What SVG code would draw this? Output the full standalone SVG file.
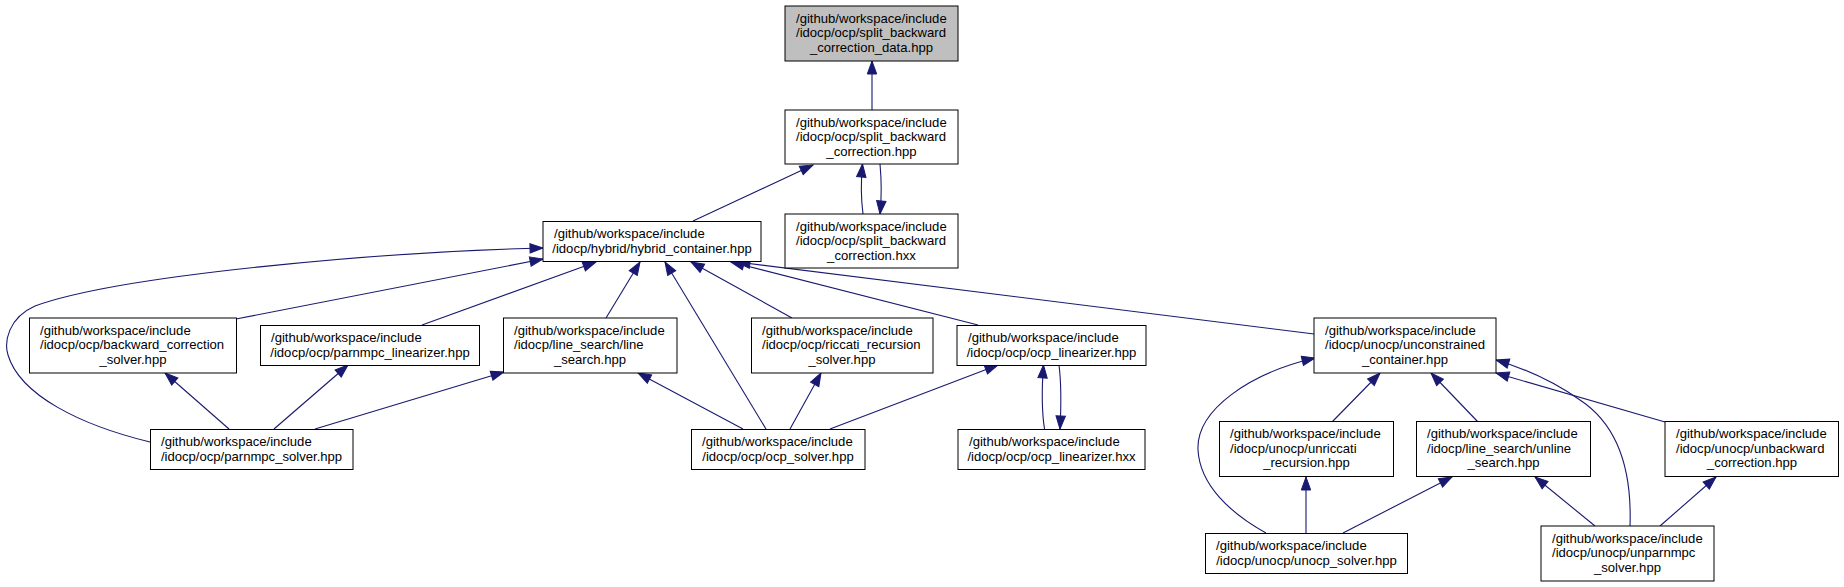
<svg xmlns="http://www.w3.org/2000/svg" width="1844" height="587" viewBox="0 0 1844 587">
<style>
.n rect{fill:#ffffff;stroke:#000000;stroke-width:1}
#n1 rect{fill:#bfbfbf}
text{font-family:"Liberation Sans",Arial,Helvetica,sans-serif;font-size:13.1px;fill:#000000}
.m{text-anchor:middle}
.e path{fill:none;stroke:#191970;stroke-width:1.1;marker-end:url(#ah)}
</style>
<defs>
<marker id="ah" markerUnits="userSpaceOnUse" markerWidth="16" markerHeight="12" refX="13" refY="5" orient="auto" overflow="visible">
<path d="M0,0.3 L13,5 L0,9.7 z" fill="#191970" stroke="#191970" stroke-width="1"/>
</marker>
</defs>
<rect width="1844" height="587" fill="#ffffff"/>
<g class="e" id="edges">
<path d="M872,110 L872,61"/>
<path d="M863,214 C861,199 861,180 862.5,164"/>
<path d="M880,164 C881.5,180 881.5,199 880,214"/>
<path d="M693,221 L813,165"/>
<path d="M150,442 C80,425 20,395 8,355 C4,342 8,318 35,306 C120,275 380,252 543,248"/>
<path d="M236,319 L543,259"/>
<path d="M422,325 L596,262"/>
<path d="M606,318 L640,262"/>
<path d="M766,429 L665,262"/>
<path d="M792,318 L691,262"/>
<path d="M978,325 L731,262"/>
<path d="M1314,334 L737,262"/>
<path d="M229,429 L165,373"/>
<path d="M274,429 L348,365"/>
<path d="M315,429 L504,372"/>
<path d="M743,429 L638,373"/>
<path d="M790,429 L821,373"/>
<path d="M830,429 L998,365"/>
<path d="M1044.5,429 C1042,413 1042,385 1043.5,365"/>
<path d="M1059,365 C1061,381 1061,410 1060,429"/>
<path d="M1266,533 C1230,513 1200,485 1198,450 C1196,410 1250,373 1315,358"/>
<path d="M1332,422 L1380,373"/>
<path d="M1478,422 L1431,373"/>
<path d="M1630,526 C1632,470 1618,425 1580,400 C1560,386 1530,370 1496,360"/>
<path d="M1665,422 L1496,373"/>
<path d="M1306,533 L1306,477"/>
<path d="M1343,533 L1452,477"/>
<path d="M1595,526 L1535,477"/>
<path d="M1660,526 L1716,477"/>
</g>
<g class="n" id="n1">
<rect x="785" y="6" width="173" height="55"/>
<text x="796" y="22.5">/github/workspace/include</text>
<text x="796" y="37">/idocp/ocp/split_backward</text>
<text class="m" x="871.5" y="51.5">_correction_data.hpp</text>
</g>
<g class="n" id="n2">
<rect x="785" y="110" width="173" height="54"/>
<text x="796" y="126.5">/github/workspace/include</text>
<text x="796" y="141">/idocp/ocp/split_backward</text>
<text class="m" x="871.5" y="155.5">_correction.hpp</text>
</g>
<g class="n" id="n3">
<rect x="785" y="214" width="173" height="54"/>
<text x="796" y="230.5">/github/workspace/include</text>
<text x="796" y="245">/idocp/ocp/split_backward</text>
<text class="m" x="871.5" y="259.5">_correction.hxx</text>
</g>
<g class="n" id="n4">
<rect x="543" y="221.5" width="218" height="40"/>
<text x="554" y="238">/github/workspace/include</text>
<text class="m" x="652" y="252.5">/idocp/hybrid/hybrid_container.hpp</text>
</g>
<g class="n" id="n5">
<rect x="29.5" y="318" width="207" height="55"/>
<text x="40" y="334.5">/github/workspace/include</text>
<text x="40" y="349">/idocp/ocp/backward_correction</text>
<text class="m" x="133" y="363.5">_solver.hpp</text>
</g>
<g class="n" id="n6">
<rect x="260.5" y="325.5" width="219" height="40"/>
<text x="271" y="342">/github/workspace/include</text>
<text class="m" x="370" y="356.5">/idocp/ocp/parnmpc_linearizer.hpp</text>
</g>
<g class="n" id="n7">
<rect x="503.5" y="318" width="173.5" height="55"/>
<text x="514" y="334.5">/github/workspace/include</text>
<text x="514" y="349">/idocp/line_search/line</text>
<text class="m" x="590" y="363.5">_search.hpp</text>
</g>
<g class="n" id="n8">
<rect x="751.5" y="318" width="181.5" height="55"/>
<text x="762" y="334.5">/github/workspace/include</text>
<text x="762" y="349">/idocp/ocp/riccati_recursion</text>
<text class="m" x="842" y="363.5">_solver.hpp</text>
</g>
<g class="n" id="n9">
<rect x="957" y="325.5" width="189" height="40"/>
<text x="968" y="342">/github/workspace/include</text>
<text class="m" x="1051.5" y="356.5">/idocp/ocp/ocp_linearizer.hpp</text>
</g>
<g class="n" id="n10">
<rect x="1314" y="318" width="182" height="55"/>
<text x="1325" y="334.5">/github/workspace/include</text>
<text x="1325" y="349">/idocp/unocp/unconstrained</text>
<text class="m" x="1405" y="363.5">_container.hpp</text>
</g>
<g class="n" id="n11">
<rect x="150.5" y="429.5" width="202.5" height="40"/>
<text x="161" y="446">/github/workspace/include</text>
<text class="m" x="251.5" y="460.5">/idocp/ocp/parnmpc_solver.hpp</text>
</g>
<g class="n" id="n12">
<rect x="691.5" y="429.5" width="173.5" height="40"/>
<text x="702" y="446">/github/workspace/include</text>
<text class="m" x="778" y="460.5">/idocp/ocp/ocp_solver.hpp</text>
</g>
<g class="n" id="n13">
<rect x="958" y="429.5" width="187" height="40"/>
<text x="969" y="446">/github/workspace/include</text>
<text class="m" x="1051.5" y="460.5">/idocp/ocp/ocp_linearizer.hxx</text>
</g>
<g class="n" id="n14">
<rect x="1219.5" y="421.5" width="174" height="55"/>
<text x="1230" y="438">/github/workspace/include</text>
<text x="1230" y="452.5">/idocp/unocp/unriccati</text>
<text class="m" x="1306.5" y="467">_recursion.hpp</text>
</g>
<g class="n" id="n15">
<rect x="1416.5" y="421.5" width="174" height="55"/>
<text x="1427" y="438">/github/workspace/include</text>
<text x="1427" y="452.5">/idocp/line_search/unline</text>
<text class="m" x="1503.5" y="467">_search.hpp</text>
</g>
<g class="n" id="n16">
<rect x="1665" y="421.5" width="173.5" height="55"/>
<text x="1676" y="438">/github/workspace/include</text>
<text x="1676" y="452.5">/idocp/unocp/unbackward</text>
<text class="m" x="1752" y="467">_correction.hpp</text>
</g>
<g class="n" id="n17">
<rect x="1205.5" y="533.5" width="202" height="40"/>
<text x="1216" y="550">/github/workspace/include</text>
<text class="m" x="1306.5" y="564.5">/idocp/unocp/unocp_solver.hpp</text>
</g>
<g class="n" id="n18">
<rect x="1541" y="526" width="173" height="55"/>
<text x="1552" y="542.5">/github/workspace/include</text>
<text x="1552" y="557">/idocp/unocp/unparnmpc</text>
<text class="m" x="1627.5" y="571.5">_solver.hpp</text>
</g>
</svg>
